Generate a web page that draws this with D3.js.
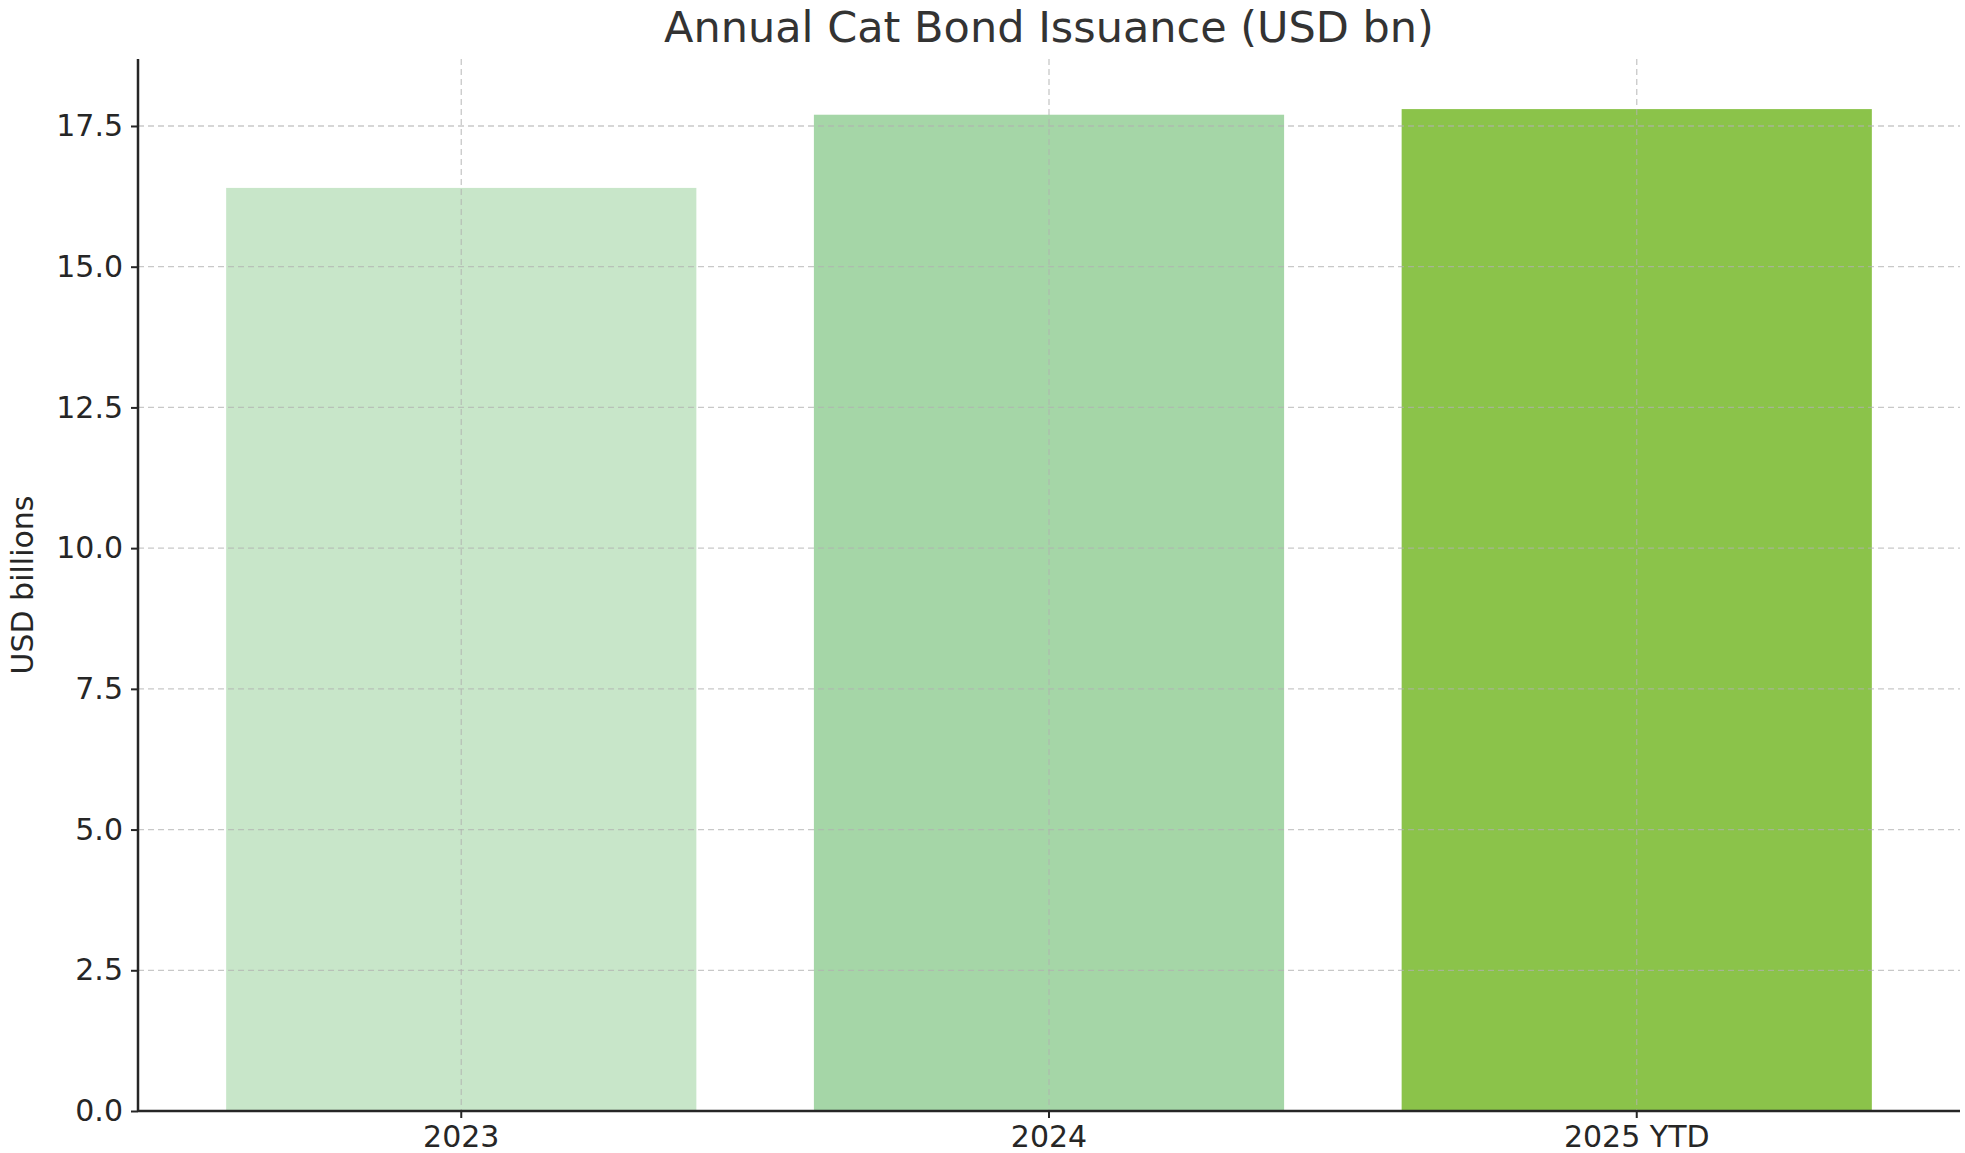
<!DOCTYPE html>
<html><head><meta charset="utf-8">
<script src="https://cdn.jsdelivr.net/npm/d3@7"></script>
<style>
body{margin:0;background:#fff;font-family:"DejaVu Sans",sans-serif;}
.axis text{font-size:30px;fill:#262626;font-family:"DejaVu Sans",sans-serif;}
</style></head><body><div id="chart"></div>
<script>
var categories = ["2023", "2024", "2025 YTD"];
var values = [16.4, 17.7, 17.8];
var colors = ["#c8e6c9", "#a5d6a7", "#8bc34a"];
var yTicks = [0, 2.5, 5, 7.5, 10, 12.5, 15, 17.5];

var w = 1965, h = 1153;
var padLeft = 138, padRight = 1960, padTop = 59, padBottom = 1111;

var svg = d3.select("#chart").append("svg").attr("width", w).attr("height", h);

var xScale = d3.scaleBand().domain(categories).range([padLeft, padRight]).paddingInner(0.2).paddingOuter(0.15);
var yScale = d3.scaleLinear().domain([0, 18.69]).range([padBottom, padTop]);

svg.selectAll("rect").data(values).enter().append("rect")
  .attr("x", function(d, i) { return xScale(categories[i]); })
  .attr("width", xScale.bandwidth())
  .attr("y", function(d) { return yScale(d); })
  .attr("height", function(d) { return padBottom - yScale(d); })
  .attr("fill", function(d, i) { return colors[i]; });

// grid on top of bars, like the reference
svg.selectAll(".hgrid").data(yTicks).enter().append("line")
  .attr("x1", padLeft).attr("x2", padRight)
  .attr("y1", function(d) { return yScale(d); }).attr("y2", function(d) { return yScale(d); })
  .attr("stroke", "#b0b0b0").attr("stroke-opacity", 0.7).attr("stroke-dasharray", "6,4").attr("stroke-width", 1.3);
svg.selectAll(".vgrid").data(categories).enter().append("line")
  .attr("x1", function(d) { return xScale(d) + xScale.bandwidth() / 2; })
  .attr("x2", function(d) { return xScale(d) + xScale.bandwidth() / 2; })
  .attr("y1", padTop).attr("y2", padBottom)
  .attr("stroke", "#b0b0b0").attr("stroke-opacity", 0.7).attr("stroke-dasharray", "6,4").attr("stroke-width", 1.3);

var xAxis = d3.axisBottom(xScale).tickSize(7).tickPadding(8);
var yAxis = d3.axisLeft(yScale).tickValues(yTicks).tickFormat(d3.format(".1f")).tickSize(7).tickPadding(8);

var gx = svg.append("g").attr("class", "axis").attr("transform", "translate(0," + padBottom + ")").call(xAxis);
gx.select(".domain").attr("d", "M" + padLeft + ",0H" + padRight).attr("stroke", "#262626").attr("stroke-width", 2.5);
var gy = svg.append("g").attr("class", "axis").attr("transform", "translate(" + padLeft + ",0)").call(yAxis);
gy.select(".domain").attr("d", "M0," + padTop + "V" + padBottom).attr("stroke", "#262626").attr("stroke-width", 2.5);
svg.selectAll(".tick line").attr("stroke", "#262626").attr("stroke-width", 2);

svg.append("text").attr("x", (padLeft + padRight) / 2).attr("y", 42)
  .attr("text-anchor", "middle").attr("font-size", 43).attr("fill", "#333")
  .text("Annual Cat Bond Issuance (USD bn)");
svg.append("text").attr("transform", "translate(33," + ((padTop + padBottom) / 2) + ") rotate(-90)")
  .attr("text-anchor", "middle").attr("font-size", 30).attr("fill", "#262626")
  .text("USD billions");
</script></body></html>
